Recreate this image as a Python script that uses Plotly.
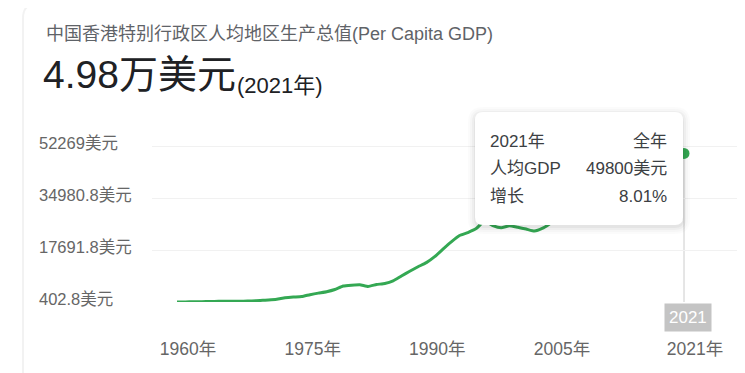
import plotly.graph_objects as go

# ---------------- data ----------------
years = list(range(1960, 2022))
gdp_per_capita = [
    429, 436, 477, 524, 561, 622, 631, 662, 655, 746,
    925, 1053, 1300, 1800, 2050, 2215, 2844, 3358, 3831, 4568,
    5700, 5991, 6134, 5595, 6208, 6543, 7435, 9072, 10610, 12116,
    13486, 15466, 17976, 20396, 22503, 23497, 24818, 27330, 25809, 25092,
    25757, 25230, 24666, 23977, 24928, 26650, 28224, 30594, 31516, 30697,
    32550, 35142, 36731, 38404, 40315, 42432, 43731, 46166, 48543, 48356,
    46109, 49800,
]
y_tick_vals = [402.8, 17691.8, 34980.8, 52269]
y_tick_text = ["402.8美元", "17691.8美元", "34980.8美元", "52269美元"]
x_tick_vals = [1960, 1975, 1990, 2005, 2021]
x_tick_text = ["1960年", "1975年", "1990年", "2005年", "2021年"]

title_text = "中国香港特别行政区人均地区生产总值(Per Capita GDP)"
headline_value = "4.98万美元"
headline_year = "(2021年)"
tip_rows = [("2021年", "全年"), ("人均GDP", "49800美元"), ("增长", "8.01%")]
pointer_label = "2021"

# ---------------- layout geometry ----------------
# page coordinates; the figure is drawn 8px in from the page corner
W, H = 745, 373
OFF = 8
P_L, P_R, P_T, P_B = 152, 745, 120, 302          # plot area in page px
L, T = P_L - OFF, P_T - OFF
R = W - (P_R - OFF)
B = H - (P_B - OFF)
PW, PH = P_R - P_L, P_B - P_T

def px(x):
    return (x - P_L) / PW

def py(y):
    return (P_B - y) / PH

# x: 1960 -> 177px, 2021 -> 684px (page)
ppy = (684 - 177) / (2021 - 1960)
x_range = [1960 - (177 - P_L) / ppy, 2021 + (P_R - 684) / ppy]
# y: 402.8 -> 302px, 52269 -> 146px
vpp = (52269 - 402.8) / (302 - 146)
y_range = [402.8, 402.8 + PH * vpp]

FONT = "Liberation Sans, Arial, Noto Sans CJK SC, sans-serif"
GREEN = "#34a853"

def rrect(x0, y0, x1, y1, r):
    a, b, c, d = px(x0), px(x1), py(y0), py(y1)
    rx, ry = r / PW, r / PH
    return (f"M {a+rx},{c} L {b-rx},{c} Q {b},{c} {b},{c-ry} "
            f"L {b},{d+ry} Q {b},{d} {b-rx},{d} L {a+rx},{d} "
            f"Q {a},{d} {a},{d+ry} L {a},{c-ry} Q {a},{c} {a+rx},{c} Z")

fig = go.Figure()
fig.add_trace(go.Scatter(
    x=years, y=gdp_per_capita, mode="lines",
    line=dict(color=GREEN, width=3, shape="spline", smoothing=0.4),
    hoverinfo="skip", showlegend=False,
))
fig.add_trace(go.Scatter(
    x=years[-1:], y=gdp_per_capita[-1:], mode="markers",
    marker=dict(color=GREEN, size=11), hoverinfo="skip", showlegend=False,
))

shapes = []
shapes.append(dict(type="path", xref="paper", yref="paper",
                   path=rrect(23, 4, 800, 420, 14),
                   line=dict(color="rgba(0,0,0,0.05)", width=2),
                   fillcolor="rgba(0,0,0,0)", layer="below"))
shapes.append(dict(type="line", xref="x", yref="y",
                   x0=years[-1], x1=years[-1], y0=y_range[0], y1=gdp_per_capita[-1],
                   line=dict(color="#cccccc", width=1), layer="below"))
for i, a in [(7, 0.015), (5, 0.02), (3, 0.03), (1, 0.04)]:
    shapes.append(dict(type="path", xref="paper", yref="paper",
                       path=rrect(475 - i, 112 - i + 2, 683 + i, 225 + i + 2, 8 + i),
                       line=dict(width=0), fillcolor=f"rgba(0,0,0,{a})", layer="above"))
shapes.append(dict(type="path", xref="paper", yref="paper",
                   path=rrect(475, 112, 683, 225, 8),
                   line=dict(width=0), fillcolor="white", layer="above"))

ann = []
ann.append(dict(text=title_text, x=px(44), y=py(34), xref="paper", yref="paper",
                xanchor="left", yanchor="middle", showarrow=False,
                font=dict(family=FONT, size=18, color="#5f6368")))
ann.append(dict(text=headline_value, x=px(41), y=py(98), xref="paper", yref="paper",
                xanchor="left", yanchor="bottom", showarrow=False,
                font=dict(family=FONT, size=39, color="#202124")))
ann.append(dict(text=headline_year, x=px(235), y=py(85), xref="paper", yref="paper",
                xanchor="left", yanchor="middle", showarrow=False,
                font=dict(family=FONT, size=22, color="#202124")))
for v, t in zip(y_tick_vals, y_tick_text):
    ann.append(dict(text=t, x=px(37), y=v, xref="paper", yref="y",
                    xanchor="left", yanchor="middle", yshift=3, showarrow=False,
                    font=dict(family=FONT, size=16.5, color="#666666")))
for i, (lt, rt) in enumerate(tip_rows):
    yy = 141 + i * 27.5
    ann.append(dict(text=lt, x=px(488), y=py(yy), xref="paper", yref="paper",
                    xanchor="left", yanchor="middle", showarrow=False,
                    font=dict(family=FONT, size=17, color="#3c4043")))
    ann.append(dict(text=rt, x=px(669), y=py(yy), xref="paper", yref="paper",
                    xanchor="right", yanchor="middle", showarrow=False,
                    font=dict(family=FONT, size=17, color="#3c4043")))
ann.append(dict(text=pointer_label, x=years[-1], y=0, xref="x", yref="paper",
                xanchor="center", yanchor="top", xshift=4, yshift=-1, showarrow=False,
                bgcolor="#c4c4c4", borderpad=4,
                font=dict(family=FONT, size=17, color="white")))

fig.update_layout(
    width=W, height=H,
    margin=dict(l=L, r=R, t=T, b=B, pad=0),
    paper_bgcolor="white", plot_bgcolor="white",
    showlegend=False,
    shapes=shapes, annotations=ann,
    xaxis=dict(range=x_range, tickvals=x_tick_vals, ticktext=x_tick_text,
               showgrid=False, zeroline=False, showline=False, ticks="",
               ticklabelshift=11, ticklabelstandoff=34,
               tickfont=dict(family=FONT, size=17.5, color="#666666")),
    yaxis=dict(range=y_range, tickvals=y_tick_vals, showticklabels=False,
               showgrid=True, gridcolor="#f1f1f1", gridwidth=1,
               zeroline=False, showline=False, ticks=""),
)

fig.write_html("out.html")
